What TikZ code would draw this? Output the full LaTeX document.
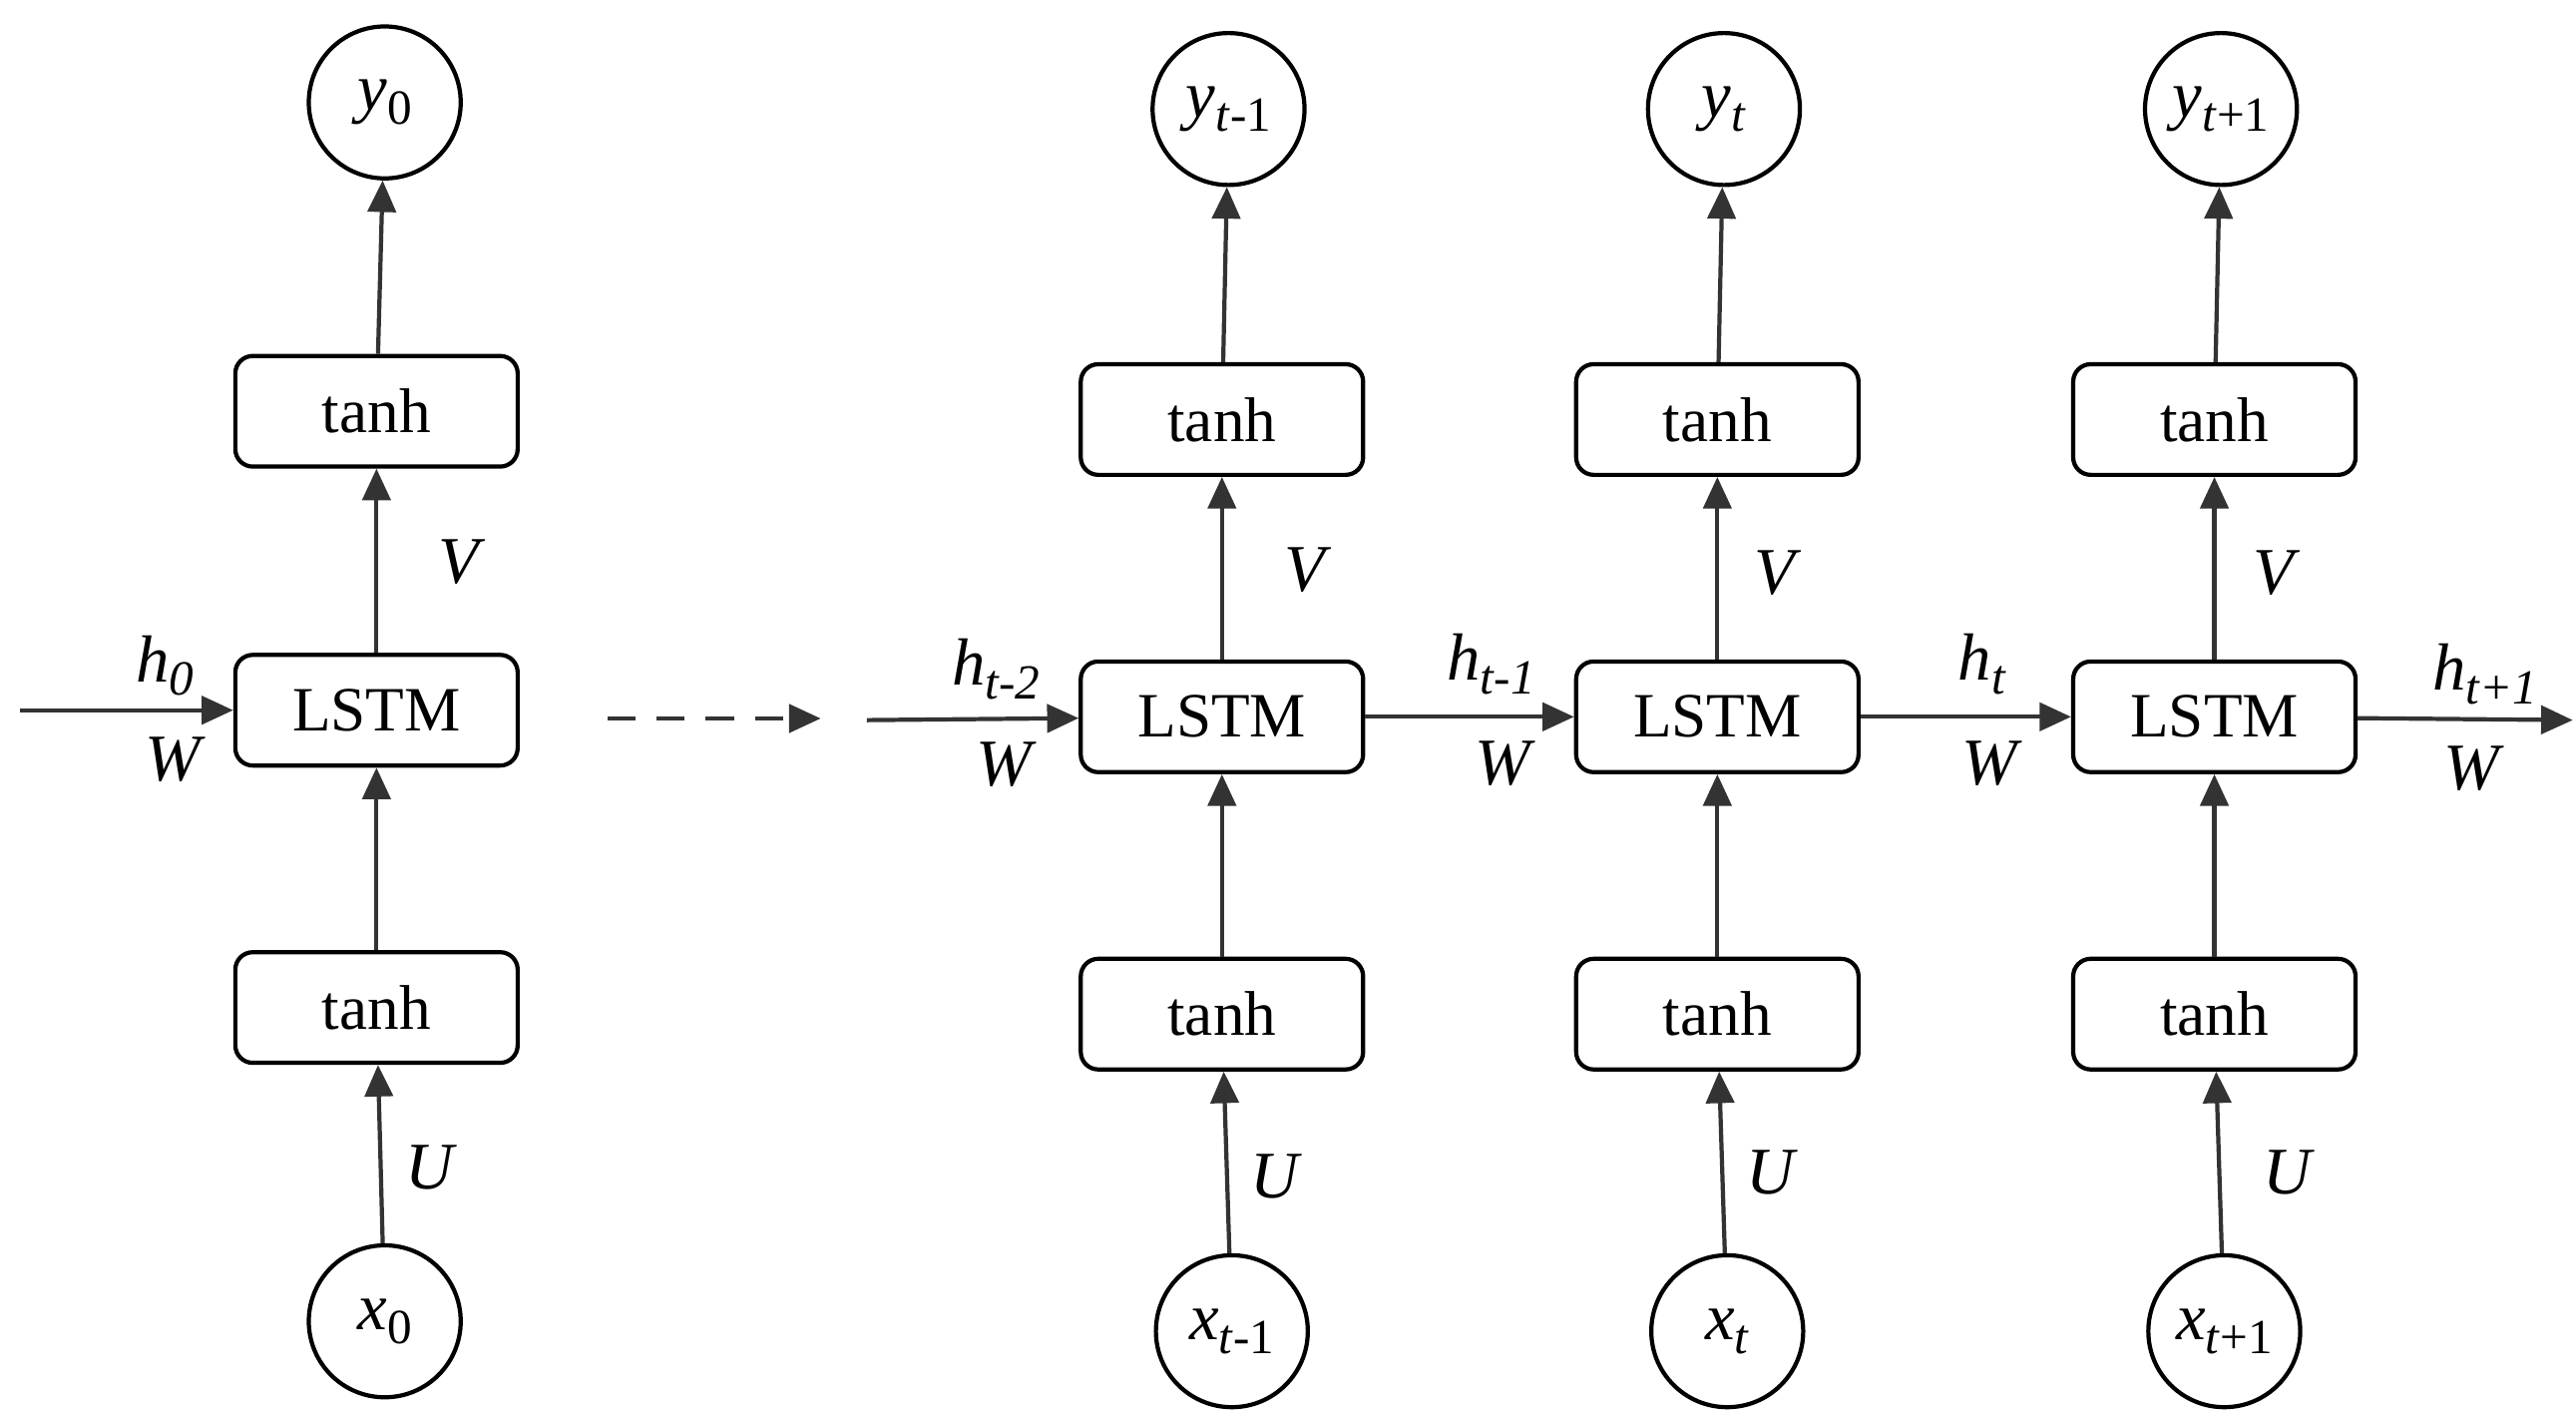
\documentclass[tikz,border=0pt]{standalone}
\usepackage{fontspec}
\setmainfont{Liberation Serif}
\usetikzlibrary{arrows.meta}
\newcommand{\myvar}[2]{\textit{#1}\raisebox{-0.45ex}{\fontsize{14}{16}\selectfont#2}}
\begin{document}
\begin{tikzpicture}[x=0.01655cm,y=-0.01655cm,
  box/.style={draw,line width=1.2pt,rounded corners=5pt,minimum width=171*0.01655cm,minimum height=67*0.01655cm,font=\fontsize{18}{20}\selectfont},
  circ/.style={draw,line width=1.2pt,circle,minimum size=92*0.01655cm,inner sep=0pt,font=\fontsize{19}{21}\selectfont},
  arr/.style={line width=1.2pt,draw=black!80,-{Triangle[length=9pt,width=8pt]}},
  lab/.style={font=\fontsize{19}{21}\selectfont\itshape}]
\useasboundingbox (0,0) rectangle (1560,855);
% column 0
\node[circ] (y0) at (233,62) {\myvar{y}{0}};
\node[box] (t0) at (228,249) {tanh};
\node[box] (l0) at (228,430) {LSTM};
\node[box] (b0) at (228,610) {tanh};
\node[circ] (x0) at (233,800) {\myvar{x}{0}};
\draw[arr] (t0) -- (y0);
\draw[arr] (l0) -- (t0);
\draw[arr] (b0) -- (l0);
\draw[arr] (x0) -- (b0);
\coordinate (in0) at (12,430);
\draw[arr] (in0) -- (l0);
\node[lab] at (100,403) {\myvar{h}{0}};
\node[lab] at (105,460) {W};
\node[lab] at (278,340) {V};
\node[lab] at (260,707) {U};
% dashed
\coordinate (d1) at (368,435); \coordinate (d2) at (497,435);
\draw[arr,dashed,dash pattern=on 8pt off 6pt] (d1) -- (d2);
% columns
\foreach \n/\c/\sub in {1/740/{\textit{t}-1},2/1040/{\textit{t}},3/1341/{\textit{t}+1}}{
  \node[circ] (y\n) at (\c+4,66) {\myvar{y}{\sub}};
  \node[box] (t\n) at (\c,254) {tanh};
  \node[box] (l\n) at (\c,434) {LSTM};
  \node[box] (b\n) at (\c,614) {tanh};
  \node[circ] (x\n) at (\c+6,806) {\myvar{x}{\sub}};
  \draw[arr] (t\n) -- (y\n);
  \draw[arr] (l\n) -- (t\n);
  \draw[arr] (b\n) -- (l\n);
  \draw[arr] (x\n) -- (b\n);
}
\coordinate (in1) at (525,436);
\coordinate (out3) at (1558,436);
\draw[arr] (in1) -- (l1);
\draw[arr] (l1) -- (l2);
\draw[arr] (l2) -- (l3);
\draw[arr] (l3) -- (out3);
\node[lab] at (603,405) {\myvar{h}{\textit{t}-2}};
\node[lab] at (608,463) {W};
\node[lab] at (903,402) {\myvar{h}{\textit{t}-1}};
\node[lab] at (910,462) {W};
\node[lab] at (1200,402) {\myvar{h}{\textit{t}}};
\node[lab] at (1205,462) {W};
\node[lab] at (1505,408) {\myvar{h}{\textit{t}+1}};
\node[lab] at (1497,465) {W};
\node[lab] at (790,345) {V};
\node[lab] at (1075,347) {V};
\node[lab] at (1377,347) {V};
\node[lab] at (772,712) {U};
\node[lab] at (1072,710) {U};
\node[lab] at (1385,710) {U};
\end{tikzpicture}
\end{document}
